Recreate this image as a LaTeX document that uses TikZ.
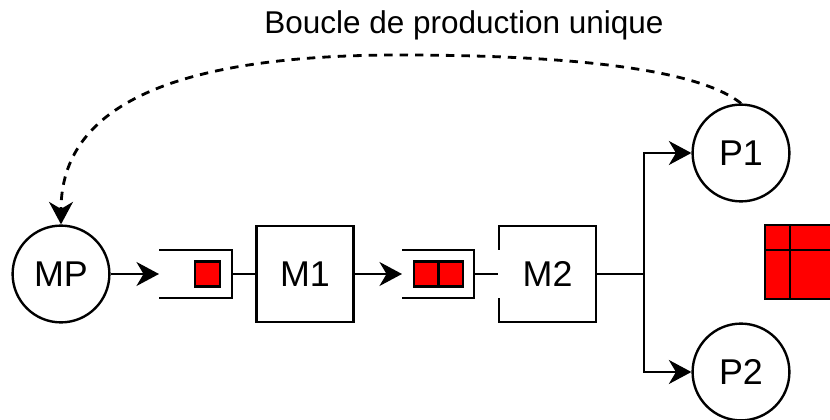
\documentclass[tikz,border=0pt]{standalone}
\usepackage{fontspec}
\usepackage{tikz}
\setmainfont{Liberation Sans}
\usetikzlibrary{arrows.meta}
\tikzset{
  poste/.style={draw,line width=1.7pt,circle,minimum size=2.42cm,inner sep=0pt,font=\fontsize{25.5}{28}\selectfont},
  machine/.style={draw,line width=1.7pt,minimum width=2.42cm,minimum height=2.4cm,inner sep=0pt,font=\fontsize{25.5}{28}\selectfont},
  flux/.style={-{Stealth[length=16pt,width=17pt,inset=5pt]},line width=2pt},
  piece/.style={draw,line width=1.7pt,fill=red,minimum size=0.62cm,inner sep=0pt},
  stock/.style={line width=1.7pt}
}
\begin{document}
\begin{tikzpicture}
    \useasboundingbox (0,0) rectangle (20.75,10.475);

    % Titre
    \node (titre) at (11.6,9.85) {\fontsize{22.4}{24}\selectfont Boucle de production unique};

    % Postes
    \node[poste] (MP) at (1.525,3.625) {MP};
    \node[poste] (P1) at (18.525,6.65) {P1};
    \node[poste] (P2) at (18.525,1.175) {P2};

    % Machines
    \node[machine] (M1) at (7.625,3.625) {M1};
    \node[machine] (M2) at (13.69,3.625) {M2};

    % Stock 1
    \coordinate (s1) at (3.975,3.625);
    \coordinate (s1h) at (5.8,4.225);
    \coordinate (s1b) at (5.8,3.025);
    \draw[stock] (3.975,4.225) -- (s1h) -- (s1b) -- (3.975,3.025);
    \draw[stock] (5.8,3.625) -- (M1.west);
    \node[piece] (p1) at (5.19,3.625) {};

    % Stock 2
    \coordinate (s2) at (10.05,3.625);
    \draw[stock] (10.05,4.225) -- (11.85,4.225) -- (11.85,3.025) -- (10.05,3.025);
    \node[piece] (p2) at (10.66,3.625) {};
    \node[piece] (p3) at (11.27,3.625) {};

    % le stock mord sur le bord de M2
    \draw[white,line width=1.3pt] (12.48,4.225) -- (12.48,3.025);
    \draw[stock] (11.85,3.625) -- (M2.west);

    % Flux
    \draw[flux] (MP) -- (s1);
    \draw[flux] (M1) -- (s2);
    \draw[line width=2pt] (M2.east) -- (16.1,3.625) coordinate (emb);
    \draw[flux] (emb) |- (P1);
    \draw[flux] (emb) |- (P2);
    \draw[flux,dash pattern=on 6pt off 5pt] (P1.north) .. controls (17.25,8.925) and (13,9.1) .. (10,9.1)
        .. controls (4.375,9.1) and (1.525,7.85) .. (MP.north);

    % Produits finis
    \fill[red] (19.125,4.85) rectangle (20.75,3.0);
    \draw[line width=1.7pt] (20.75,4.85) -- (19.125,4.85) -- (19.125,3.0) -- (20.75,3.0);
    \draw[line width=1.7pt] (19.75,4.85) -- (19.75,3.0);
    \draw[line width=1.7pt] (19.125,4.225) -- (20.75,4.225);
\end{tikzpicture}
\end{document}
